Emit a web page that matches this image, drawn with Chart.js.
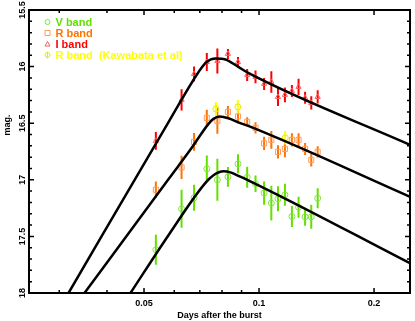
<!DOCTYPE html>
<html>
<head>
<meta charset="utf-8">
<script src="https://cdn.jsdelivr.net/npm/chart.js@4.4.0/dist/chart.umd.min.js"></script>
<style>
    html, body { margin: 0; padding: 0; background: #fff; }
    canvas { display: block; }
</style>
</head>
<body>
<canvas id="lightCurve" width="415" height="321"></canvas>
<script>
// epochs of the V, R, I points (days after the burst)
const obsDays = [0.0537, 0.0627, 0.0676, 0.0730, 0.0778, 0.0829, 0.0881, 0.0931, 0.0979,
                 0.1031, 0.1077, 0.1121, 0.1169, 0.1219, 0.1269, 0.1320, 0.1370, 0.1424];

const vMag = [17.618, 17.256, 17.159, 16.903, 17.000, 16.974, 16.859, 16.978, 17.035,
              17.117, 17.206, 17.168, 17.132, 17.324, 17.243, 17.327, 17.327, 17.163];
const vErr = [0.132, 0.168, 0.115, 0.117, 0.185, 0.088, 0.084, 0.093, 0.073,
              0.103, 0.154, 0.110, 0.097, 0.093, 0.093, 0.079, 0.106, 0.088];

const rMag = [17.088, 16.890, 16.665, 16.453, 16.479, 16.400, 16.440, 16.488, 16.541,
              16.678, 16.647, 16.753, 16.727, 16.647, 16.647, 16.727, 16.824, 16.753];
const rErr = [0.073, 0.103, 0.079, 0.071, 0.115, 0.053, 0.062, 0.040, 0.049,
              0.059, 0.079, 0.059, 0.073, 0.059, 0.059, 0.053, 0.059, 0.050];

const iMag = [16.656, 16.294, 16.065, 15.959, 15.950, 15.888, 15.959, 16.074, 16.091,
              16.153, 16.135, 16.268, 16.250, 16.215, 16.179, 16.276, 16.321, 16.268];
const iErr = [0.079, 0.093, 0.066, 0.079, 0.110, 0.044, 0.044, 0.053, 0.057,
              0.053, 0.095, 0.079, 0.066, 0.053, 0.071, 0.053, 0.059, 0.059];

// R band (Kawabata et al)
const kDays = [0.0771, 0.0880, 0.1171];
const kMag = [16.374, 16.356, 16.629];
const kErr = [0.062, 0.062, 0.059];

// model curves
const vModelDays = [0.04609, 0.05806, 0.07231, 0.07600, 0.08069, 0.08413, 0.08826, 0.09369, 0.2484];
const vModelMag = [18.0, 17.485, 17.029, 16.960, 16.925, 16.934, 16.965, 17.004, 17.737];
const rModelDays = [0.03493, 0.05806, 0.06623, 0.07376, 0.07600, 0.07878, 0.08314, 0.08826, 0.09369, 0.2484];
const rModelMag = [18.0, 16.991, 16.731, 16.506, 16.462, 16.441, 16.456, 16.493, 16.524, 17.150];
const iModelDays = [0.03173, 0.05806, 0.06948, 0.07289, 0.07691, 0.08166, 0.08826, 0.09369, 0.2484];
const iModelMag = [18.0, 16.486, 16.047, 15.959, 15.928, 15.937, 16.003, 16.056, 16.691];

const xTickValues = [0.05, 0.1, 0.2];
const xTickLabels = ['0.05', '0.1', '0.2'];
const xMinorTicks = [0.03, 0.04, 0.06, 0.07, 0.08, 0.09];
const yTickValues = [15.5, 16, 16.5, 17, 17.5, 18];
const yTickLabels = ['15.5', '16', '16.5', '17', '17.5', '18'];

const green = '#62e000';
const orange = '#ff7400';
const red = '#ff0000';
const yellow = '#ffff00';

const boldFont = { family: '"Liberation Sans", Arial, sans-serif', size: 9, weight: 'bold' };

function toPoints(xs, ys) {
    return xs.map((x, i) => ({ x: x, y: ys[i] }));
}

function modelLine(xs, ys) {
    return {
        data: toPoints(xs, ys),
        showLine: true,
        borderColor: '#000',
        borderWidth: 2.5,
        pointRadius: 0,
        cubicInterpolationMode: 'monotone',
        order: 0
    };
}

// error bars go under the markers and the model lines
const errorBars = {
    id: 'errorBars',
    beforeDatasetsDraw(chart) {
        const { ctx, scales: { x, y } } = chart;
        ctx.save();
        ctx.lineWidth = 2;
        chart.data.datasets.forEach(ds => {
            if (!ds.errors) return;
            ctx.strokeStyle = ds.barColor;
            ctx.beginPath();
            ds.data.forEach((p, i) => {
                const px = x.getPixelForValue(p.x);
                ctx.moveTo(px, y.getPixelForValue(p.y - ds.errors[i]));
                ctx.lineTo(px, y.getPixelForValue(p.y + ds.errors[i]));
            });
            ctx.stroke();
        });
        ctx.restore();
    }
};

function drawMarker(ctx, style, cx, cy, r) {
    ctx.beginPath();
    if (style === 'rect') {
        ctx.rect(cx - r, cy - r, 2 * r, 2 * r);
    } else if (style === 'triangle') {
        ctx.moveTo(cx, cy - r);
        ctx.lineTo(cx + r, cy + r * 0.8);
        ctx.lineTo(cx - r, cy + r * 0.8);
        ctx.closePath();
    } else {
        ctx.arc(cx, cy, r, 0, Math.PI * 2);
    }
    ctx.stroke();
}

// frame with inward ticks, legend inside the plot, y title
const frameAndLegend = {
    id: 'frameAndLegend',
    afterDraw(chart) {
        const { ctx, chartArea: a, scales: { x, y } } = chart;
        ctx.save();

        ctx.strokeStyle = '#000';
        ctx.lineWidth = 1.5;
        ctx.beginPath();
        xMinorTicks.concat(xTickValues).forEach(v => {
            const len = xTickValues.includes(v) ? 5 : 3;
            const px = x.getPixelForValue(v);
            ctx.moveTo(px, a.bottom); ctx.lineTo(px, a.bottom - len);
            ctx.moveTo(px, a.top); ctx.lineTo(px, a.top + len);
        });
        for (let k = 0; k <= 25; k++) {
            const v = 15.5 + k * 0.1;
            const len = k % 5 === 0 ? 5 : 3;
            const py = y.getPixelForValue(v);
            ctx.moveTo(a.left, py); ctx.lineTo(a.left + len, py);
            ctx.moveTo(a.right, py); ctx.lineTo(a.right - len, py);
        }
        ctx.stroke();

        ctx.lineWidth = 2;
        ctx.strokeRect(a.left, a.top, a.right - a.left, a.bottom - a.top);

        // y title
        ctx.fillStyle = '#000';
        ctx.font = 'bold 9px "Liberation Sans", Arial, sans-serif';
        ctx.translate(7.5, 125);
        ctx.rotate(-Math.PI / 2);
        ctx.textAlign = 'center';
        ctx.textBaseline = 'middle';
        ctx.fillText('mag.', 0, 0);
        ctx.setTransform(1, 0, 0, 1, 0, 0);

        // legend
        ctx.font = 'bold 11px "Liberation Sans", Arial, sans-serif';
        ctx.textAlign = 'left';
        ctx.lineWidth = 1;
        chart.data.datasets.filter(ds => ds.label).forEach((ds, i) => {
            const cy = 22 + i * 11;
            ctx.strokeStyle = ds.borderColor;
            drawMarker(ctx, ds.pointStyle, 47.5, cy, 2.5);
            if (ds.label.indexOf('Kawabata') >= 0) {
                ctx.beginPath();
                ctx.moveTo(47.5, cy - 3.5); ctx.lineTo(47.5, cy + 3.5);
                ctx.stroke();
            }
            ctx.fillStyle = ds.textColor;
            ctx.fillText(ds.label, 55.5, cy + 1);
        });
        ctx.restore();
    }
};

function band(label, xs, ys, errs, style, barColor, pointColor, textColor) {
    return {
        label: label,
        data: toPoints(xs, ys),
        errors: errs,
        barColor: barColor,
        textColor: textColor,
        pointStyle: style,
        pointRadius: style === 'rect' ? 3.6 : 3,
        borderWidth: 1,
        borderColor: pointColor,
        backgroundColor: 'rgba(0,0,0,0)',
        order: 1
    };
}

new Chart(document.getElementById('lightCurve'), {
    type: 'scatter',
    data: {
        datasets: [
            band('V band', obsDays, vMag, vErr, 'circle', green, '#7fe63a', green),
            band('R band', obsDays, rMag, rErr, 'rect', orange, '#ff9a5e', orange),
            band('I band', obsDays, iMag, iErr, 'triangle', red, '#ff5a5a', red),
            band('R band  (Kawabata et al)', kDays, kMag, kErr, 'circle', yellow, '#e8e800', yellow),
            modelLine(vModelDays, vModelMag),
            modelLine(rModelDays, rModelMag),
            modelLine(iModelDays, iModelMag)
        ]
    },
    options: {
        responsive: false,
        animation: false,
        layout: { padding: { top: 10, right: 2, left: 0, bottom: 0 } },
        plugins: {
            legend: { display: false },
            tooltip: { enabled: false }
        },
        scales: {
            x: {
                type: 'logarithmic',
                min: 0.025,
                max: 0.2484,
                grid: { display: false, drawTicks: false },
                border: { display: false },
                afterBuildTicks: s => { s.ticks = xTickValues.map(v => ({ value: v })); },
                afterFit: s => { s.height = 28; },
                ticks: {
                    autoSkip: false,
                    maxRotation: 0,
                    padding: 5,
                    color: '#000',
                    font: boldFont,
                    callback: (v, i) => xTickLabels[i]
                },
                title: {
                    display: true,
                    text: 'Days after the burst',
                    color: '#000',
                    font: boldFont,
                    padding: { top: 0, bottom: 0 }
                }
            },
            y: {
                type: 'linear',
                reverse: true,
                min: 15.5,
                max: 18,
                grid: { display: false, drawTicks: false },
                border: { display: false },
                afterBuildTicks: s => { s.ticks = yTickValues.map(v => ({ value: v })); },
                afterFit: s => { s.width = 29; },
                ticks: {
                    minRotation: 90,
                    maxRotation: 90,
                    crossAlign: 'center',
                    padding: -2,
                    color: '#000',
                    font: boldFont,
                    callback: (v, i) => yTickLabels[i]
                }
            }
        }
    },
    plugins: [errorBars, frameAndLegend]
});
</script>
</body>
</html>
